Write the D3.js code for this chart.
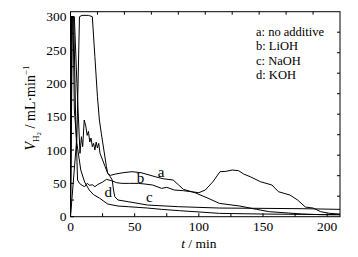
<!DOCTYPE html>
<html lang="en">
<head>
    <meta charset="UTF-8">
    <script src="https://cdn.jsdelivr.net/npm/d3@7/dist/d3.min.js"></script>
    <title>H2 rate</title>
    <style>
        body { margin: 0; background: #fff; }
        text { font-family: "Liberation Serif", "DejaVu Serif", serif; fill: #000; }
    </style>
</head>
<body>
</body>
<script>
    // time (min) and rate (mL/min)
    let tA = [0, 5, 7, 9, 14, 17, 19, 21, 22.5, 24, 26, 28, 29, 31, 35, 41, 48, 55, 66, 72, 80, 84, 88, 97, 108, 116, 132, 145, 155, 170, 181, 195, 210];
    let vA = [0, 120, 300, 302, 302, 300, 240, 180, 145, 125, 100, 75, 65, 62, 64, 66, 67.5, 66, 60, 57, 55, 48, 41, 36, 27, 20, 16, 11, 7.5, 5.5, 4, 3, 3];

    let tB = [0, 0.8, 2.5, 4, 5.5, 7, 9, 11, 13, 15, 17, 19, 21, 23, 25, 28, 32, 36, 40, 46, 53, 58, 64, 71, 75, 81, 88, 94, 100, 105, 111, 116.5, 121, 126, 131, 135, 140, 148, 157, 162, 171, 177, 183, 189, 195, 202, 210];
    let vB = [0, 300, 300, 150, 55, 50, 47, 45, 50, 47, 48, 45, 48, 50, 52, 56, 54, 51, 50, 50, 50, 49, 47.5, 42.5, 44, 40, 39, 37.5, 36, 40, 52.5, 67.5, 68, 70, 69, 64, 60, 52.5, 47.5, 37.5, 32.5, 25, 14.5, 13, 7.5, 5, 4];

    let tC = [0, 1, 2, 3, 5, 8, 11, 14.6, 18, 22.5, 29, 37, 45, 60, 71, 85, 97, 116, 150, 180, 210];
    let vC = [0, 300, 300, 160, 110, 70, 52, 40, 33, 28, 19, 16, 15, 13, 11, 9, 7.5, 5, 4, 3.5, 3];

    let tD = [0, 1.5, 3, 5, 7.4, 8.5, 9.5, 10.7, 12, 13, 14, 15, 16, 17, 18, 19, 20, 21, 22, 23, 25, 27, 29, 31, 32.5, 33.5, 34.5, 37, 45, 60, 84, 116, 150, 181, 210];
    let vD = [0, 300, 300, 200, 95, 120, 105, 145, 135, 122, 128, 112, 118, 105, 110, 100, 112, 103, 110, 95, 85, 75, 65, 60, 55, 40, 30, 25, 22.5, 17.5, 15, 13, 12.5, 12, 11];

    let xTicks = [0, 50, 100, 150, 200];
    let yTicks = [0, 50, 100, 150, 200, 250, 300];
    let legendLines = ["a: no additive", "b: LiOH", "c: NaOH", "d: KOH"];
    let curveLabels = ["a", "b", "c", "d"];

    let svg = d3.select("body")
        .append("svg")
        .attr("width", 358)
        .attr("height", 257);

    let x = d3.scaleLinear().domain([0, 210]).range([70.5, 340]);
    let y = d3.scaleLinear().domain([0, 307.5]).range([216.7, 11.7]);

    // frame
    svg.append("rect")
        .attr("x", x(0)).attr("y", y(307.5))
        .attr("width", x(210) - x(0)).attr("height", y(0) - y(307.5))
        .attr("fill", "none").attr("stroke", "#000").attr("stroke-width", 1);

    // bottom / left ticks, inward
    let gx = svg.append("g").attr("transform", "translate(0," + y(0) + ")");
    gx.selectAll("line").data(d3.range(0, 211, 25)).enter().append("line")
        .attr("x1", d => x(d)).attr("x2", d => x(d))
        .attr("y1", 0).attr("y2", -3.5).attr("stroke", "#000");
    gx.selectAll("text").data(xTicks).enter().append("text")
        .attr("x", d => x(d)).attr("y", 14.5)
        .attr("text-anchor", "middle").attr("font-size", 13.5)
        .text(d => d);

    let gy = svg.append("g").attr("transform", "translate(" + x(0) + ",0)");
    gy.selectAll("line").data(d3.range(0, 301, 25)).enter().append("line")
        .attr("x1", 0).attr("x2", 3.5)
        .attr("y1", d => y(d)).attr("y2", d => y(d)).attr("stroke", "#000");
    gy.selectAll("text").data(yTicks).enter().append("text")
        .attr("x", -4).attr("y", d => y(d) + 4.5)
        .attr("text-anchor", "end").attr("font-size", 13.5)
        .text(d => d);

    // top / right ticks: ten even divisions
    let xt = d3.scaleLinear().domain([0, 10]).range([x(0), x(210)]);
    let yr = d3.scaleLinear().domain([0, 10]).range([y(0), y(307.5)]);
    svg.append("g").selectAll("line").data(d3.range(1, 10)).enter().append("line")
        .attr("x1", d => xt(d)).attr("x2", d => xt(d))
        .attr("y1", y(307.5)).attr("y2", y(307.5) + 3).attr("stroke", "#000");
    svg.append("g").selectAll("line").data(d3.range(1, 10)).enter().append("line")
        .attr("x1", x(210)).attr("x2", x(210) - 3)
        .attr("y1", d => yr(d)).attr("y2", d => yr(d)).attr("stroke", "#000");

    // curves
    let line = d3.line().x(d => x(d[0])).y(d => y(d[1]));
    let series = [[tA, vA], [tB, vB], [tC, vC], [tD, vD]];
    svg.append("g").selectAll("path").data(series).enter().append("path")
        .attr("d", s => line(d3.zip(s[0], s[1])))
        .attr("fill", "none").attr("stroke", "#000").attr("stroke-width", 1);

    // curve labels (t, v of the baseline)
    let labelPos = [[70.5, 59.5], [54.5, 50.5], [61.5, 22], [29.5, 29.5]];
    svg.append("g").selectAll("text").data(curveLabels).enter().append("text")
        .attr("x", (d, i) => x(labelPos[i][0]))
        .attr("y", (d, i) => y(labelPos[i][1]))
        .attr("text-anchor", "middle").attr("font-size", 15)
        .text(d => d);

    // legend
    svg.append("g").selectAll("text").data(legendLines).enter().append("text")
        .attr("x", 256).attr("y", (d, i) => 36 + i * 14.3)
        .attr("font-size", 12.5)
        .text(d => d);

    // axis titles
    let xt2 = svg.append("text").attr("x", x(100)).attr("y", 247.5)
        .attr("text-anchor", "middle").attr("font-size", 13.5);
    xt2.append("tspan").attr("font-style", "italic").text("t");
    xt2.append("tspan").text(" / min");

    let yt = svg.append("text")
        .attr("transform", "translate(35,108) rotate(-90)")
        .attr("text-anchor", "middle").attr("font-size", 14);
    yt.append("tspan").attr("font-style", "italic").text("V");
    yt.append("tspan").attr("font-size", 9).attr("dy", 4).text("H");
    yt.append("tspan").attr("font-size", 7).attr("dy", 2).text("2");
    yt.append("tspan").attr("dy", -6).text(" / mL·min");
    yt.append("tspan").attr("font-size", 9).attr("dy", -6).text("−1");
</script>
</html>
